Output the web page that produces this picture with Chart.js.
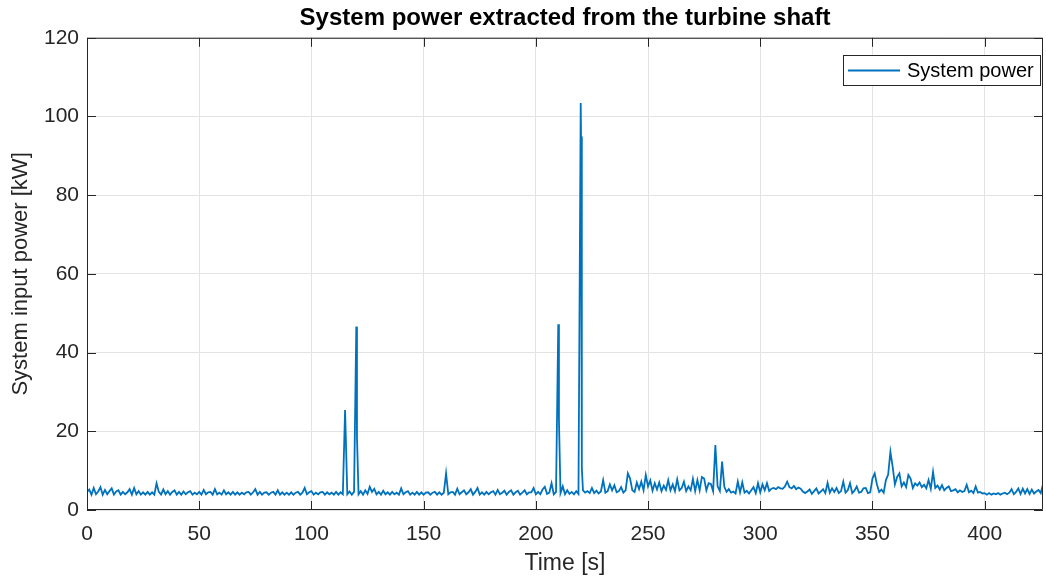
<!DOCTYPE html>
<html lang="en">
<head>
<meta charset="UTF-8">
<title>System power extracted from the turbine shaft</title>
<script src="https://cdn.jsdelivr.net/npm/chart.js"></script>
<style>
    body { margin: 0; background: #ffffff; }
    #wrap { width: 1046px; height: 577px; }
</style>
</head>
<body>
<div id="wrap"><canvas id="powerChart" width="1046" height="577"></canvas></div>
<script>
    // sampled power, one value per second starting at t = 0 s
    const sampleStart = 0;
    const sampleStep = 1;
    const systemPower = [
        4.6, 5.2, 3.9, 5.6, 4.0, 4.7, 5.8, 3.9, 5.1, 4.0,
        4.8, 5.5, 3.9, 4.7, 5.0, 3.9, 4.6, 4.0, 4.5, 5.3,
        3.9, 5.6, 4.0, 4.8, 3.9, 4.5, 3.9, 4.6, 3.9, 4.5,
        3.9, 6.8, 4.6, 3.9, 5.2, 4.0, 4.8, 3.9, 4.6, 5.0,
        3.9, 4.6, 3.9, 4.7, 4.0, 4.5, 4.8, 3.9, 4.4, 4.0,
        4.6, 3.9, 5.1, 4.0, 4.5, 4.6, 3.9, 5.3, 4.0, 4.4,
        3.9, 5.0, 4.0, 4.5, 3.9, 4.6, 3.9, 4.5, 3.9, 4.4,
        4.0, 4.5, 4.6, 3.9, 4.5, 5.3, 3.9, 4.6, 3.9, 4.4,
        4.5, 3.9, 4.4, 4.6, 3.9, 5.0, 3.9, 4.5, 3.9, 4.4,
        3.9, 4.5, 3.9, 4.4, 4.6, 3.9, 4.4, 5.6, 4.0, 4.5,
        4.8, 3.9, 4.4, 4.0, 4.5, 4.6, 3.9, 4.5, 4.0, 4.4,
        3.9, 4.6, 3.9, 4.5, 4.0, 25.4, 4.0, 4.7, 3.9, 4.6,
        46.6, 4.0, 4.8, 3.9, 5.0, 4.1, 5.9, 4.6, 5.4, 4.0,
        4.6, 3.9, 4.9, 4.0, 4.5, 3.9, 4.6, 4.0, 4.4, 3.9,
        5.5, 4.0, 4.5, 4.8, 3.9, 4.4, 3.9, 4.6, 3.9, 4.5,
        3.9, 4.4, 4.5, 3.9, 4.4, 4.6, 3.9, 4.5, 3.9, 4.4,
        9.3, 4.0, 4.5, 4.6, 3.9, 5.4, 4.0, 4.5, 5.0, 4.0,
        4.5, 5.3, 3.9, 4.6, 5.6, 3.9, 4.5, 3.9, 4.6, 4.0,
        4.5, 4.8, 3.9, 5.1, 4.0, 4.4, 4.9, 3.9, 4.6, 5.0,
        3.9, 4.5, 4.9, 3.9, 4.4, 5.0, 4.0, 4.5, 4.5, 5.6,
        4.0, 4.6, 4.0, 5.2, 5.9, 4.1, 4.4, 6.8, 4.0, 4.6,
        47.2, 4.3, 6.0, 4.0, 5.0, 4.1, 4.6, 4.0, 4.8, 4.1,
        103.4, 5.0, 4.4, 4.8, 4.3, 5.6, 4.3, 4.9, 4.2, 4.7,
        7.6, 4.4, 4.8, 6.5, 5.0, 6.3, 4.5, 4.8, 5.8, 4.4,
        5.0, 9.3, 8.0, 5.0, 4.6, 7.0, 5.3, 7.2, 5.0, 8.9,
        6.0, 7.5, 4.9, 6.8, 5.2, 7.0, 4.8, 6.2, 5.1, 7.6,
        5.0, 6.5, 4.8, 7.8, 5.0, 5.6, 7.2, 4.8, 6.0, 5.0,
        7.9, 4.8, 7.6, 5.0, 8.4, 8.0, 5.0, 6.8, 6.6, 4.8,
        16.5, 6.0, 4.8, 12.3, 5.9, 4.6, 5.3, 4.4, 4.7, 4.2,
        7.2, 4.5, 7.0, 4.4, 4.9, 4.2, 5.0, 5.8, 4.3, 6.8,
        4.5, 6.5, 5.0, 6.8, 4.8, 5.4, 5.6, 5.3, 5.8, 5.5,
        5.4, 6.0, 7.2, 5.8, 5.5, 6.1, 5.3, 5.7, 5.4, 4.7,
        4.3, 4.7, 5.2, 4.1, 4.8, 5.5, 4.2, 4.7, 5.3, 4.3,
        6.9, 4.4, 5.5, 4.6, 5.6, 4.3, 4.8, 7.2, 4.4, 5.0,
        6.8, 4.3, 4.9, 6.0, 4.4, 4.6, 5.5, 5.6, 4.3, 4.5,
        8.0, 9.3, 6.5, 4.6, 5.2, 4.4, 7.6, 9.0, 14.8, 11.0,
        6.5, 8.4, 9.3, 6.0, 7.0, 5.8, 8.9, 8.0, 5.6, 6.8,
        6.2, 7.0, 5.8, 6.4, 5.5, 7.6, 5.4, 9.7, 5.6, 6.2,
        5.2, 6.3, 5.0, 5.6, 6.0, 4.8, 5.0, 5.3, 4.5, 5.0,
        4.6, 4.8, 6.4, 4.5, 4.9, 4.3, 6.0, 4.4, 4.6, 4.2,
        4.3, 3.9, 4.3, 3.9, 4.2, 4.0, 4.3, 3.9, 4.2, 4.4,
        4.0, 4.4, 5.3, 4.0, 4.6, 5.5, 4.1, 5.4, 4.2, 5.3,
        4.1, 5.2, 4.2, 4.7, 5.1, 4.3, 6.5
    ];

    // extra samples on the falling side of the big spikes
    const spikeTimes = [120.3, 210.3, 220.15, 220.5];
    const spikeValues = [18.6, 22.9, 94.9, 10.7];

    const xTicks = [0, 50, 100, 150, 200, 250, 300, 350, 400];
    const yTicks = [0, 20, 40, 60, 80, 100, 120];

    const points = systemPower.map((v, i) => ({ x: sampleStart + i * sampleStep, y: v }));
    spikeTimes.forEach((t, i) => points.push({ x: t, y: spikeValues[i] }));
    points.sort((a, b) => a.x - b.x);

    const FONT = "'Liberation Sans', Arial, Helvetica, sans-serif";
    const AXIS = '#262626';
    const LINE = '#0072BD';

    // MATLAB-like box, inward ticks and legend
    const axesBox = {
        id: 'axesBox',
        afterDraw(chart) {
            const { ctx, chartArea: a, scales: { x, y } } = chart;
            const len = 9;
            ctx.save();
            ctx.strokeStyle = AXIS;
            ctx.lineWidth = 1;
            ctx.beginPath();
            ctx.rect(a.left + 0.5, a.top + 0.5, a.right - a.left - 1, a.bottom - a.top - 1);
            xTicks.forEach(t => {
                const px = Math.round(x.getPixelForValue(t)) + 0.5;
                ctx.moveTo(px, a.bottom); ctx.lineTo(px, a.bottom - len);
                ctx.moveTo(px, a.top); ctx.lineTo(px, a.top + len);
            });
            yTicks.forEach(t => {
                const py = Math.round(y.getPixelForValue(t)) + 0.5;
                ctx.moveTo(a.left, py); ctx.lineTo(a.left + len, py);
                ctx.moveTo(a.right, py); ctx.lineTo(a.right - len, py);
            });
            ctx.stroke();

            // legend
            const lx = 843, ly = 55, lw = 197, lh = 30;
            ctx.fillStyle = '#ffffff';
            ctx.fillRect(lx, ly, lw, lh);
            ctx.strokeStyle = AXIS;
            ctx.strokeRect(lx + 0.5, ly + 0.5, lw, lh);
            ctx.strokeStyle = LINE;
            ctx.lineWidth = 2;
            ctx.beginPath();
            ctx.moveTo(lx + 5, ly + 15.5);
            ctx.lineTo(lx + 57, ly + 15.5);
            ctx.stroke();
            ctx.fillStyle = '#000000';
            ctx.font = '20px ' + FONT;
            ctx.textBaseline = 'middle';
            ctx.fillText('System power', lx + 64, ly + 16);
            ctx.restore();
        }
    };

    new Chart(document.getElementById('powerChart'), {
        type: 'line',
        data: {
            datasets: [{
                label: 'System power',
                data: points,
                borderColor: LINE,
                borderWidth: 1.8,
                pointRadius: 0,
                tension: 0,
                fill: false
            }]
        },
        options: {
            responsive: false,
            animation: false,
            layout: { padding: { left: 0, right: 3, top: 0, bottom: 0 } },
            plugins: {
                legend: { display: false },
                tooltip: { enabled: false },
                title: {
                    display: true,
                    text: 'System power extracted from the turbine shaft',
                    fullSize: false,
                    color: '#000000',
                    font: { family: FONT, size: 24, weight: 'bold' },
                    padding: { top: 4, bottom: 5 }
                }
            },
            scales: {
                x: {
                    type: 'linear',
                    min: 0,
                    max: 426,
                    afterFit(scale) { scale.height = 67; },
                    afterBuildTicks(scale) { scale.ticks = xTicks.map(v => ({ value: v })); },
                    grid: { color: '#e3e3e3', drawTicks: false },
                    border: { display: false },
                    ticks: { color: AXIS, padding: 12, maxRotation: 0, font: { family: FONT, size: 21 } },
                    title: {
                        display: true,
                        text: 'Time [s]',
                        color: AXIS,
                        font: { family: FONT, size: 23 },
                        padding: { top: 0, bottom: 0 }
                    }
                },
                y: {
                    min: 0,
                    max: 120,
                    afterFit(scale) { scale.width = 87; },
                    afterBuildTicks(scale) { scale.ticks = yTicks.map(v => ({ value: v })); },
                    grid: { color: '#e3e3e3', drawTicks: false },
                    border: { display: false },
                    ticks: { color: AXIS, padding: 8, font: { family: FONT, size: 21 } },
                    title: {
                        display: true,
                        text: 'System input power [kW]',
                        color: AXIS,
                        font: { family: FONT, size: 22 },
                        padding: { top: 8, bottom: 0 }
                    }
                }
            }
        },
        plugins: [axesBox]
    });
</script>
</body>
</html>
